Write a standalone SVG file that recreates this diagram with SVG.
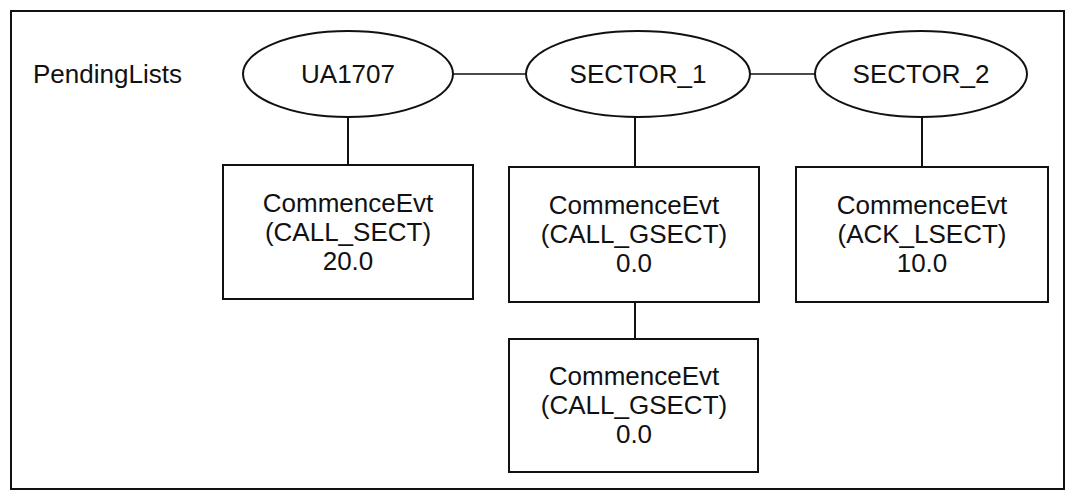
<svg xmlns="http://www.w3.org/2000/svg" width="1066" height="491" viewBox="0 0 1066 491">
<style>
.frame{fill:none;stroke:#111;stroke-width:2}
.shape{fill:#fff;stroke:#111;stroke-width:2}
.conn{stroke:#111;stroke-width:2;fill:none}
.thin{stroke:#111;stroke-width:1.5;fill:none}
text{font-family:"Liberation Sans",Arial,Helvetica,sans-serif;font-size:26px;fill:#111}
.c{text-anchor:middle}
</style>
<rect class="frame" x="11" y="11" width="1053" height="478"/>
<text id="title" x="33" y="83">PendingLists</text>
<g id="connectors">
<line class="thin" x1="453" y1="74" x2="526" y2="74"/>
<line class="thin" x1="750" y1="74" x2="815" y2="74"/>
<line class="conn" x1="348" y1="117" x2="348" y2="165"/>
<line class="conn" x1="635" y1="117" x2="635" y2="167"/>
<line class="conn" x1="922" y1="117" x2="922" y2="167"/>
<line class="conn" x1="635" y1="302" x2="635" y2="339"/>
</g>
<g id="ua1707">
<ellipse class="shape" cx="348" cy="74" rx="105" ry="43"/>
<text class="c" x="348" y="83">UA1707</text>
</g>
<g id="sector1">
<ellipse class="shape" cx="638" cy="74" rx="112" ry="43"/>
<text class="c" x="638" y="83">SECTOR_1</text>
</g>
<g id="sector2">
<ellipse class="shape" cx="921" cy="74" rx="106" ry="43"/>
<text class="c" x="921" y="83">SECTOR_2</text>
</g>
<g id="evt1">
<rect class="shape" x="223" y="165" width="250" height="134"/>
<text class="c" x="348" y="212">CommenceEvt</text>
<text class="c" x="348" y="241">(CALL_SECT)</text>
<text class="c" x="348" y="270">20.0</text>
</g>
<g id="evt2">
<rect class="shape" x="509" y="167" width="250" height="135"/>
<text class="c" x="634" y="214">CommenceEvt</text>
<text class="c" x="634" y="243">(CALL_GSECT)</text>
<text class="c" x="634" y="272">0.0</text>
</g>
<g id="evt3">
<rect class="shape" x="796" y="167" width="252" height="135"/>
<text class="c" x="922" y="214">CommenceEvt</text>
<text class="c" x="922" y="243">(ACK_LSECT)</text>
<text class="c" x="922" y="272">10.0</text>
</g>
<g id="evt4">
<rect class="shape" x="509" y="339" width="249" height="133"/>
<text class="c" x="634" y="385">CommenceEvt</text>
<text class="c" x="634" y="414">(CALL_GSECT)</text>
<text class="c" x="634" y="443">0.0</text>
</g>
</svg>
